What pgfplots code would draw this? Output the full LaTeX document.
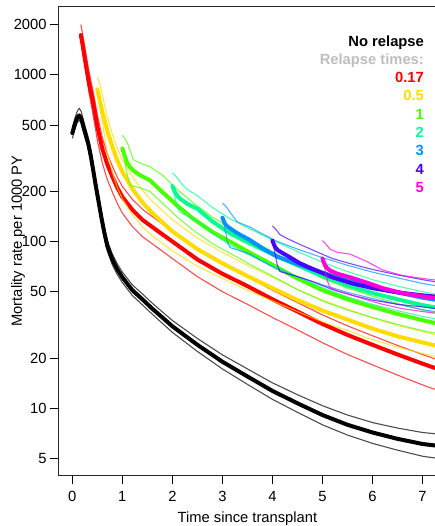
\documentclass[border=0pt]{standalone}
\usepackage{fontspec}
\setmainfont{Liberation Sans}
\usepackage{pgfplots}
\usepackage{pgfplotstable}
\pgfplotsset{compat=1.18}

% rainbow(7)
\definecolor{cRed}{HTML}{FF0000}
\definecolor{cYel}{HTML}{FFDB00}
\definecolor{cGrn}{HTML}{49FF00}
\definecolor{cSpr}{HTML}{00FF92}
\definecolor{cBlu}{HTML}{0092FF}
\definecolor{cPur}{HTML}{4900FF}
\definecolor{cMag}{HTML}{FF00DB}
\definecolor{cGry}{HTML}{BEBEBE}

% columns: time, estimate, lower, upper
\pgfplotstableread{
x mid lo hi
0.00 447 415 480
0.05 505 470 545
0.10 555 518 605
0.14 570 535 630
0.18 545 510 600
0.22 490 458 535
0.27 435 406 473
0.32 385 360 418
0.37 325 304 353
0.42 265 248 287
0.47 215 201 233
0.52 177 165 191
0.58 140 131 151
0.64 113 105.5 122
0.70 94 87.5 101
0.80 78 72.5 84
0.90 68 63.2 73.2
1.00 61 56.7 65.6
1.20 51 47.4 54.9
1.40 45 41.7 48.5
1.60 39.5 36.6 42.6
1.80 35 32.3 37.8
2.00 31 28.5 33.6
2.50 24 21.9 26.2
3.00 19 17.2 20.9
3.50 15.5 13.9 17.2
4.00 12.7 11.3 14.2
4.50 10.7 9.45 12.05
5.00 9.1 7.95 10.35
5.50 7.95 6.9 9.1
6.00 7.15 6.15 8.2
6.50 6.55 5.6 7.6
7.00 6.1 5.15 7.15
7.30 5.95 5.0 7.0
}\norel

\pgfplotstableread{
x mid lo hi
0.17 1730 1730 2000
0.20 1550 1500 1800
0.25 1250 1150 1470
0.33 900 790 1060
0.40 720 610 840
0.45 600 500 700
0.50 490 405 575
0.60 360 295 420
0.70 290 235 335
0.80 245 198 283
0.90 210 169 243
1.00 185 148 214
1.20 155 123 179
1.40 135 107 156
1.70 116 92 134
2.00 100 79 115
2.50 78 61.5 89
3.00 64 50 73
3.50 54 42 61.5
4.00 45 35 51
4.50 38 29.5 43
5.00 32 24.7 36.3
5.50 27.5 21 31.2
6.00 24 18.2 27.2
6.50 21 15.8 23.8
7.00 18.5 13.8 21
7.30 17.2 12.8 19.5
}\relA

\pgfplotstableread{
x mid lo hi
0.50 817 817 965
0.55 700 650 880
0.60 600 520 760
0.70 460 340 560
0.80 370 260 440
0.90 305 210 360
1.00 262 180 310
1.20 207 145 245
1.40 172 123 203
1.60 148 108 174
2.00 115 88 135
2.50 90 71 105
3.00 74 60 86
3.50 62 51 72
4.00 52.5 44 61
4.50 44.5 38 51.5
5.00 38.5 33 44.5
5.50 34 29.2 39.3
6.00 30 25.8 34.8
6.50 27 23.2 31.3
7.00 24.8 21.3 28.8
7.30 23.6 20.3 27.4
}\relB

\pgfplotstableread{
x mid lo hi
1.00 361 361 434
1.05 325 300 415
1.10 295 250 390
1.15 280 218 355
1.22 266 215 310
1.35 250 210 295
1.55 233 200 281
1.80 198 170 250
2.10 164 140 205
2.40 138 118 172
2.80 114 97 140
3.20 98 83.5 119
3.60 84 71.5 101
4.00 72.5 62 87
4.50 60 51.5 71.5
5.00 51 44 60
5.50 45 38.8 52.5
6.00 40.5 35 47
6.50 36.8 31.8 42.5
7.00 33.7 29.2 38.8
7.30 32.2 28 37
}\relC

\pgfplotstableread{
x mid lo hi
2.00 215 215 258
2.05 198 185 250
2.10 188 160 240
2.15 181 150 228
2.30 168 142 205
2.50 157 133 188
2.80 132 112 160
3.15 112 95 137
3.50 99 84 121
4.00 84 71.5 102
4.50 72 61.5 87
5.00 62 53 75
5.50 54.5 46.5 66
6.00 49 42 59
6.50 45 38.5 54
7.00 41.5 35.5 50
7.30 40 34.2 48
}\relD

\pgfplotstableread{
x mid lo hi
3.00 139 139 169
3.05 128 120 165
3.10 123 100 158
3.15 120 92 150
3.30 112 89 131
3.55 102 84 122
3.80 91 76 111
4.10 81 68 100
4.50 73 61.5 90
5.00 65 55 80
5.50 58.5 49.5 72
6.00 53.5 45.5 65.5
6.50 49.5 42 60.5
7.00 46 39 56
7.30 44.5 37.8 54
}\relE

\pgfplotstableread{
x mid lo hi
4.00 101 101 124
4.05 93 85 120
4.10 89 72 115
4.15 87 66 110
4.30 82 64 104
4.55 74 61 96
4.80 68.5 57.5 89
5.20 61 51.5 79
5.60 56 47.5 73
6.00 52.5 44.5 68
6.50 49.5 42 63
7.00 47.5 40.5 59
7.30 46.5 39.5 57
}\relF

\pgfplotstableread{
x mid lo hi
5.00 79 79 101
5.05 72 68 98
5.10 69 58 94
5.15 67 53 90
5.30 64 50.5 86
5.55 61 48 84
5.90 56.5 44.5 75.5
6.20 52.5 42 67.5
6.60 49 39.5 62.5
7.00 46.8 38 60
7.30 45.5 37 58.5
}\relG

\begin{document}
\begin{tikzpicture}
\begin{axis}[
  scale only axis, width=376.7bp, height=469bp,
  xmin=-0.28, xmax=7.25,
  ymode=log, ymin=3.92, ymax=2550,
  axis x line*=box, axis y line*=left,
  axis line style={black!85, line width=1bp},
  xtick pos=bottom, ytick pos=left,
  tick align=outside, major tick length=8.5bp,
  tick style={black, line width=0.8bp},
  yminorticks=false,
  xtick={0,1,2,3,4,5,6,7}, xticklabels={0,1,2,3,4,5,6,7},
  ytick={5,10,20,50,100,200,500,1000,2000},
  yticklabels={5,10,20,50,100,200,500,1000,2000},
  tick label style={font=\fontsize{14.8}{17}\selectfont, inner sep=0pt},
  xticklabel style={anchor=north, yshift=-7bp},
  yticklabel style={anchor=east, xshift=-3bp},
  label style={font=\fontsize{14.8}{17}\selectfont, inner sep=0pt},
  xlabel={Time since transplant},
  xlabel style={at={(axis description cs:0.502,-0.0981)}, anchor=base},
  ylabel={Mortality rate per 1000 PY},
  ylabel style={at={(axis description cs:-0.0964,0.501)}, anchor=base},
  thin/.style={line width=1.1bp, opacity=0.7, line join=round},
  est/.style={line width=4bp, line join=round, line cap=round},
]
% no relapse
\addplot[thin, black] table[x=x, y=lo] {\norel};
\addplot[thin, black] table[x=x, y=hi] {\norel};
\addplot[est, black] table[x=x, y=mid] {\norel};
% relapse at 0.17
\addplot[thin, cRed] table[x=x, y=lo] {\relA};
\addplot[thin, cRed] table[x=x, y=hi] {\relA};
\addplot[est, cRed] table[x=x, y=mid] {\relA};
% relapse at 0.5
\addplot[thin, cYel] table[x=x, y=lo] {\relB};
\addplot[thin, cYel] table[x=x, y=hi] {\relB};
\addplot[est, cYel] table[x=x, y=mid] {\relB};
% relapse at 1
\addplot[thin, cGrn] table[x=x, y=lo] {\relC};
\addplot[thin, cGrn] table[x=x, y=hi] {\relC};
\addplot[est, cGrn] table[x=x, y=mid] {\relC};
% relapse at 2
\addplot[thin, cSpr] table[x=x, y=lo] {\relD};
\addplot[thin, cSpr] table[x=x, y=hi] {\relD};
\addplot[est, cSpr] table[x=x, y=mid] {\relD};
% relapse at 3
\addplot[thin, cBlu] table[x=x, y=lo] {\relE};
\addplot[thin, cBlu] table[x=x, y=hi] {\relE};
\addplot[est, cBlu] table[x=x, y=mid] {\relE};
% relapse at 4
\addplot[thin, cPur] table[x=x, y=lo] {\relF};
\addplot[thin, cPur] table[x=x, y=hi] {\relF};
\addplot[est, cPur] table[x=x, y=mid] {\relF};
% relapse at 5
\addplot[thin, cMag] table[x=x, y=lo] {\relG};
\addplot[thin, cMag] table[x=x, y=hi] {\relG};
\addplot[est, cMag] table[x=x, y=mid] {\relG};

% legend text
\begin{scope}[every node/.style={anchor=base east, inner sep=0pt, font=\fontsize{14.8}{17}\selectfont\bfseries}]
\node[text=black] at (axis description cs:0.971,0.9168) {No relapse};
\node[text=cGry] at (axis description cs:0.971,0.8778) {Relapse times:};
\node[text=cRed] at (axis description cs:0.971,0.8388) {0.17};
\node[text=cYel] at (axis description cs:0.971,0.7998) {0.5};
\node[text=cGrn] at (axis description cs:0.971,0.7608) {1};
\node[text=cSpr] at (axis description cs:0.971,0.7217) {2};
\node[text=cBlu] at (axis description cs:0.971,0.6827) {3};
\node[text=cPur] at (axis description cs:0.971,0.6437) {4};
\node[text=cMag] at (axis description cs:0.971,0.6047) {5};
\end{scope}
\end{axis}
\pgfresetboundingbox
\path[use as bounding box] (-58.3bp,-50bp) rectangle (376.7bp,476bp);
\end{tikzpicture}
\end{document}
